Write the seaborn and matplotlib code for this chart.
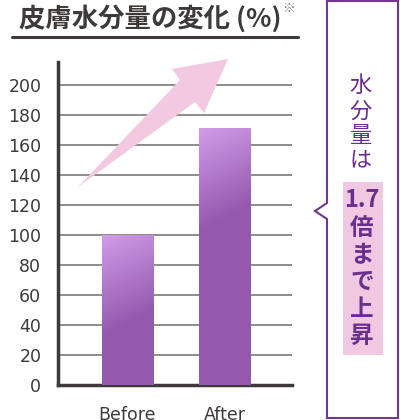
import numpy as np
import matplotlib
matplotlib.use('Agg')
import matplotlib.pyplot as plt
from matplotlib.patches import Polygon, Rectangle
from matplotlib.lines import Line2D
from matplotlib.colors import to_rgb
import seaborn as sns

# データ
categories = ['Before', 'After']
values = [100, 171]
y_ticks = list(range(0, 201, 20))
title = '皮膚水分量の変化 (%)'
note_mark = '※'
callout_plain = ['水', '分', '量', 'は']
callout_bold = ['1.7', '倍', 'ま', 'で', '上', '昇']

sns.set_style('white')
plt.rcParams['font.family'] = ['Noto Sans CJK JP', 'DejaVu Sans']

W, H = 400, 420
dark = '#3e3a39'
purple = '#6a2e8c'


def px(x, y):
    # ピクセル座標 -> figure座標
    return (x / W, 1 - y / H)


fig = plt.figure(figsize=(4, 4.2), dpi=100)
ax = fig.add_axes([58 / W, 1 - 385 / H, (292 - 58) / W, (385 - 62) / H])

sns.barplot(x=categories, y=values, width=0.526, ax=ax)
ax.set_xlim(-0.716, 1.696)
ax.set_ylim(0, 215)
ax.set_yticks(y_ticks)
ax.yaxis.grid(True, color='#8c8c8c', linewidth=1.4)
ax.set_axisbelow(True)
for s in ['top', 'right']:
    ax.spines[s].set_visible(False)
for s in ['left', 'bottom']:
    ax.spines[s].set_color(dark)
    ax.spines[s].set_linewidth(2.5)
ax.tick_params(length=0, labelsize=12.5, labelcolor=dark)
ax.tick_params(axis='y', pad=12)
ax.tick_params(axis='x', pad=15)
for lab in ax.get_xticklabels() + ax.get_yticklabels():
    lab.set_family('DejaVu Sans')
ax.set_xlabel('')
ax.set_ylabel('')

# グラデーション
light = np.array(to_rgb('#d29ce9'))
deep = np.array(to_rgb('#9459ad'))
for p in ax.patches:
    x0, y0 = p.get_x(), p.get_y()
    w, h = p.get_width(), p.get_height()
    yy = np.linspace(y0 + h, y0, 200)[:, None]
    xx = np.linspace(0, 1, 40)[None, :]
    t = np.clip((y0 + h - yy) / 68 + 0.25 * xx, 0, 1)
    img = light[None, None, :] * (1 - t[..., None]) + deep[None, None, :] * t[..., None]
    im = ax.imshow(img, extent=(x0, x0 + w, y0, y0 + h), aspect='auto',
                   origin='upper', zorder=3)
    im.set_clip_path(p)
    p.set_facecolor('none')
    p.set_edgecolor('none')
ax.set_xlim(-0.716, 1.696)
ax.set_ylim(0, 215)

# 矢印
arrow_px = [(78, 187), (180, 80), (172, 69), (228, 59), (204, 113), (195, 102)]
arrow = Polygon([px(*q) for q in arrow_px], closed=True, transform=fig.transFigure,
                facecolor='#f2c9e1', edgecolor='none', zorder=2, clip_on=False)
ax.add_artist(arrow)

# タイトル
fig.text(*px(19, 19), title, fontsize=19, fontweight='bold', color=dark,
         ha='left', va='center')
fig.text(*px(289, 9), note_mark, fontsize=9, color='#777777', ha='center', va='center')
fig.add_artist(Line2D([12 / W, 298 / W], [1 - 37 / H, 1 - 37 / H],
                      color=dark, linewidth=2.2, transform=fig.transFigure))

# 吹き出し
box_px = [(327, 1), (398, 1), (398, 418), (327, 418), (327, 219), (315, 211), (327, 203)]
fig.add_artist(Polygon([px(*q) for q in box_px], closed=True, transform=fig.transFigure,
                       facecolor='white', edgecolor='#73378f', linewidth=1.5))
fig.add_artist(Rectangle(px(343, 355), 40 / W, (355 - 182) / H, transform=fig.transFigure,
                         facecolor='#f0c8e2', edgecolor='none'))
for ch, yc in zip(callout_plain, [85, 111, 136, 160]):
    fig.text(*px(361, yc), ch, fontsize=16, color=purple, ha='center', va='center')
for ch, yc in zip(callout_bold, [200, 228, 255, 282, 309, 336]):
    fig.text(*px(362, yc), ch, fontsize=17, fontweight='bold', color=purple,
             ha='center', va='center')

fig.savefig('out.png', dpi=100)
